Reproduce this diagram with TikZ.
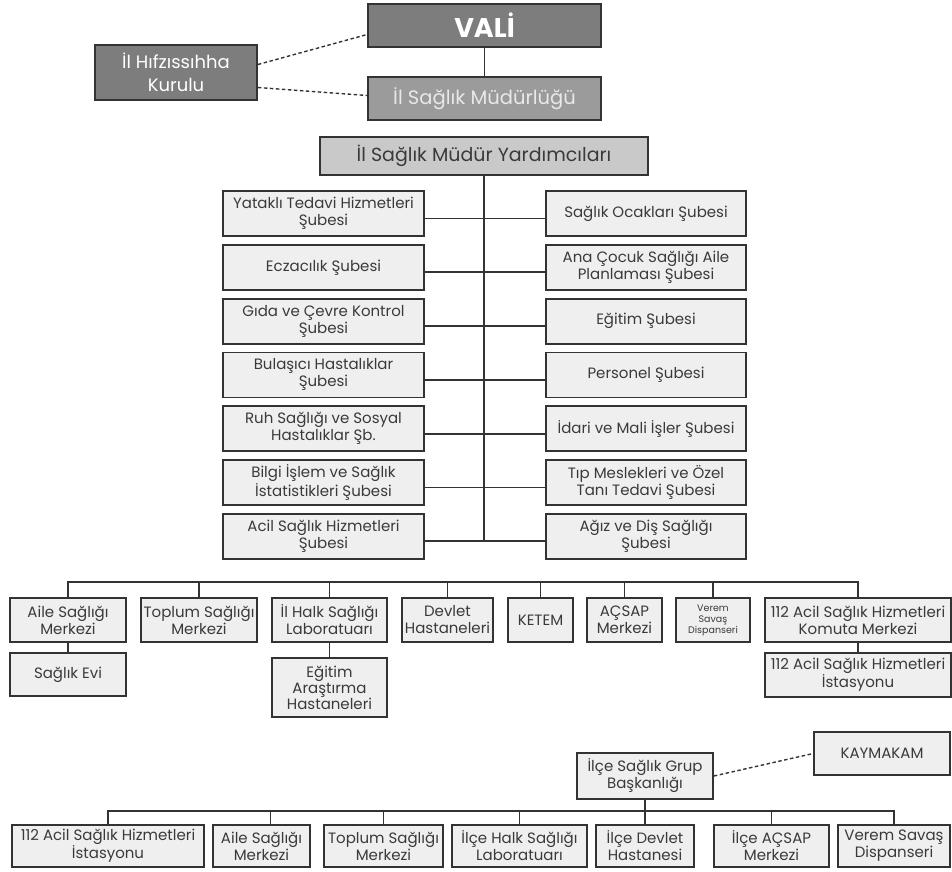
\documentclass[tikz,border=0pt]{standalone}
\usepackage{fontspec}
\setmainfont{Poppins}
\definecolor{linec}{HTML}{333333}
\definecolor{boxf}{HTML}{EFEFEF}
\definecolor{textc}{HTML}{3A3A3A}
\definecolor{darkf}{HTML}{7D7D7D}
\definecolor{midf}{HTML}{9B9B9B}
\definecolor{midt}{HTML}{E8E8E8}
\definecolor{yardf}{HTML}{C9C9C9}
\begin{document}
\begin{tikzpicture}[x=1pt,y=-1pt,
  box/.style={draw=linec, line width=1.8pt, fill=boxf, text=textc, align=center, inner sep=0pt,
    font=\fontsize{15}{17}\selectfont},
  conn/.style={draw=linec, line width=1.8pt},
  dashconn/.style={draw=linec, line width=1.4pt, dash pattern=on 3.5pt off 2.5pt}]
\useasboundingbox (0,0) rectangle (952,871);
% top
\node[box, fill=darkf, text=white, minimum width=233, minimum height=43, font=\fontsize{27}{30}\bfseries] (vali) at (484.5,25.5) {VALİ};
\node[box, fill=darkf, text=white, minimum width=162, minimum height=55, font=\fontsize{18}{23}\selectfont] (hifz) at (176,72.5) {İl Hıfzıssıhha\\Kurulu};
\node[box, fill=midf, text=midt, minimum width=233, minimum height=43, font=\fontsize{19.5}{22}\selectfont] (mud) at (484.5,98.5) {İl Sağlık Müdürlüğü};
\draw[conn] (vali) -- (mud);
\draw[dashconn] ([yshift=8pt]hifz.east) -- ([yshift=-9pt]vali.west);
\draw[dashconn] ([yshift=-15pt]hifz.east) -- ([yshift=3pt]mud.west);
% assistants
\node[box, fill=yardf, text=textc, minimum width=328, minimum height=38, font=\fontsize{19}{22}\selectfont] (yard) at (484,156) {İl Sağlık Müdür Yardımcıları};
\tikzset{lb/.style={box, minimum width=201, minimum height=45}, rb/.style={box, minimum width=200, minimum height=45}}
\node[lb] (L1) at (323.5,213.5) {Yataklı Tedavi Hizmetleri\\Şubesi};
\node[lb] (L2) at (323.5,267.3) {Eczacılık Şubesi};
\node[lb] (L3) at (323.5,321.1) {Gıda ve Çevre Kontrol\\Şubesi};
\node[lb] (L4) at (323.5,374.9) {Bulaşıcı Hastalıklar\\Şubesi};
\node[lb] (L5) at (323.5,428.7) {Ruh Sağlığı ve Sosyal\\Hastalıklar Şb.};
\node[lb] (L6) at (323.5,482.5) {Bilgi İşlem ve Sağlık\\İstatistikleri Şubesi};
\node[lb] (L7) at (323.5,536.3) {Acil Sağlık Hizmetleri\\Şubesi};
\node[rb] (R1) at (646,213.5) {Sağlık Ocakları Şubesi};
\node[rb] (R2) at (646,267.3) {Ana Çocuk Sağlığı Aile\\Planlaması Şubesi};
\node[rb] (R3) at (646,321.1) {Eğitim Şubesi};
\node[rb] (R4) at (646,374.9) {Personel Şubesi};
\node[rb] (R5) at (646,428.7) {İdari ve Mali İşler Şubesi};
\node[rb] (R6) at (646,482.5) {Tıp Meslekleri ve Özel\\Tanı Tedavi Şubesi};
\node[rb] (R7) at (646,536.3) {Ağız ve Diş Sağlığı\\Şubesi};
\foreach \k in {1,...,7} {\draw[conn] ([yshift=-5pt]L\k.east) -- ([yshift=-5pt]R\k.west);}
\coordinate (vend) at ([yshift=-5pt]L7.east);
\draw[conn] (yard.south) -- (yard.south |- vend);
% provincial units
\node[box, minimum width=116, minimum height=44] (ASM) at (68,620) {Aile Sağlığı\\Merkezi};
\node[box, minimum width=116, minimum height=44] (TSM) at (199,620) {Toplum Sağlığı\\Merkezi};
\node[box, minimum width=115, minimum height=44] (ILH) at (329.5,620) {İl Halk Sağlığı\\Laboratuarı};
\node[box, minimum width=91, minimum height=44] (DEV) at (447.5,620) {Devlet\\Hastaneleri};
\node[box, minimum width=65, minimum height=44] (KET) at (540.5,620) {KETEM};
\node[box, minimum width=75, minimum height=44] (ACS) at (624.5,620) {AÇSAP\\Merkezi};
\node[box, minimum width=74, minimum height=44, font=\fontsize{9.5}{11}\selectfont] (VER) at (713,620) {Verem\\Savaş\\Dispanseri};
\node[box, minimum width=186, minimum height=44] (K112) at (858,620) {112 Acil Sağlık Hizmetleri\\Komuta Merkezi};
\node[box, minimum width=116, minimum height=43] (SEV) at (68,674.5) {Sağlık Evi};
\node[box, minimum width=115, minimum height=59, font=\fontsize{15}{16}\selectfont] (EAH) at (329.5,687.5) {Eğitim\\Araştırma\\Hastaneleri};
\node[box, minimum width=186, minimum height=44] (I112) at (858,675) {112 Acil Sağlık Hizmetleri\\İstasyonu};
\draw[conn] (ASM.north) -- ++(0,-15) -| (K112.north);
\foreach \n in {TSM,ILH,DEV,KET,ACS,VER} {\draw[conn] (\n.north) -- ++(0,-15);}
\draw[conn] (ASM) -- (SEV);
\draw[conn] (ILH) -- (EAH);
\draw[conn] (K112) -- (I112);
% district
\node[box, minimum width=136, minimum height=43] (KAY) at (882,753.5) {KAYMAKAM};
\node[box, minimum width=136, minimum height=46] (ISG) at (645,776) {İlçe Sağlık Grup\\Başkanlığı};
\draw[dashconn] (ISG.east) -- (KAY.west);
\node[box, minimum width=192, minimum height=42] (B1) at (108,846) {112 Acil Sağlık Hizmetleri\\İstasyonu};
\node[box, minimum width=97, minimum height=42] (B2) at (261.5,846) {Aile Sağlığı\\Merkezi};
\node[box, minimum width=119, minimum height=42] (B3) at (383.5,846) {Toplum Sağlığı\\Merkezi};
\node[box, minimum width=135, minimum height=42] (B4) at (519.5,846) {İlçe Halk Sağlığı\\Laboratuarı};
\node[box, minimum width=98, minimum height=42] (B5) at (645,846) {İlçe Devlet\\Hastanesi};
\node[box, minimum width=115, minimum height=42] (B6) at (771.5,846) {İlçe AÇSAP\\Merkezi};
\node[box, minimum width=112, minimum height=42] (B7) at (894,846) {Verem Savaş\\Dispanseri};
\draw[conn] (ISG.south) -- (B5.north);
\draw[conn] (B1.north) -- ++(0,-13) -| (B7.north);
\draw[conn] ([xshift=9pt]B2.north) -- ++(0,-13);
\foreach \n in {B3,B4,B6} {\draw[conn] (\n.north) -- ++(0,-13);}
\end{tikzpicture}
\end{document}
